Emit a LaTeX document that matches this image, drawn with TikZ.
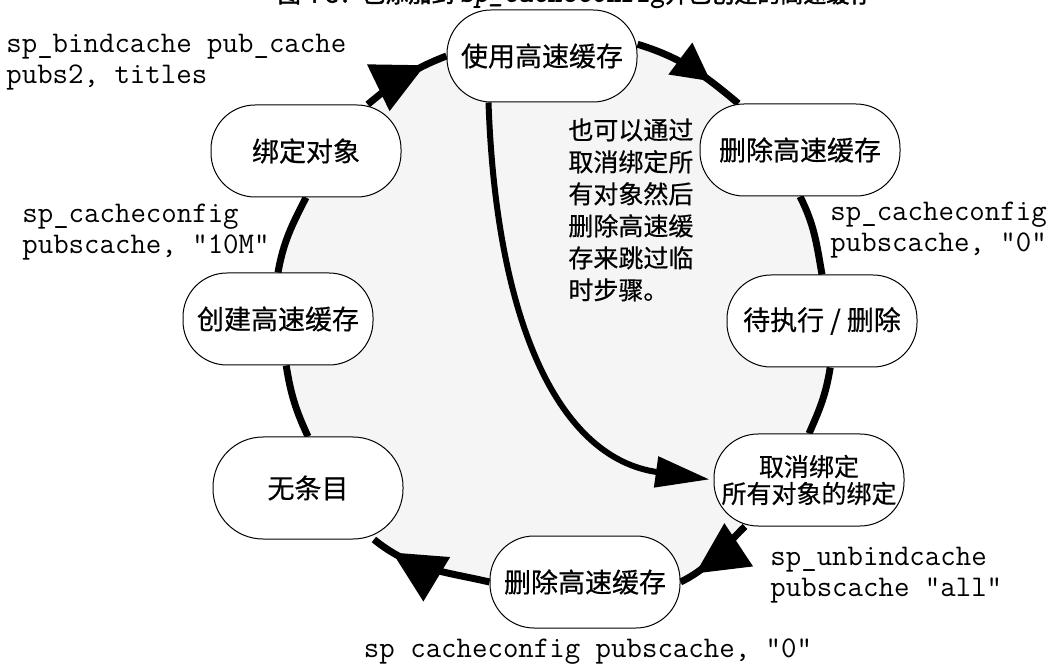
\documentclass[tikz,border=0pt]{standalone}
\usepackage{fontspec}
\newfontfamily\cjk[FakeBold=0.5]{Noto Sans CJK SC}
\newfontfamily\cjkbf[FakeBold=2]{Noto Sans CJK SC}
\usetikzlibrary{arrows.meta,decorations.markings,backgrounds}
\tikzset{
  cachestate/.style={draw,line width=0.5pt,fill=white,rounded corners=22pt,
    minimum width=95pt,minimum height=46pt,inner sep=1pt,align=center,
    font=\cjk\fontsize{13.5}{16}\selectfont},
  ring/.style={line width=3.5pt},
  ringarrow/.style={postaction={decorate},decoration={markings,
    mark=at position #1 with {\arrow{Triangle[length=26pt,width=25pt]}}}},
  cmd/.style={font=\ttfamily\fontsize{15}{15.5}\selectfont,align=left,inner sep=0pt}
}
\begin{document}
\begin{tikzpicture}[x=0.5pt,y=0.5pt]
    \useasboundingbox (0,0) rectangle (1061,665);
    %% title, cut by the top edge
    \node (title) at (575,669) {{\cjkbf\fontsize{11.5}{12}\selectfont 图 4-3：已添加到 }{\ttfamily\bfseries\itshape\fontsize{14}{14}\selectfont sp\_cacheconfig}{\cjkbf\fontsize{11.5}{12}\selectfont 并已创建的高速缓存}};
    %% states
    \node[cachestate] (use) at (542,609) {使用高速缓存};
    \node[cachestate,minimum width=100pt] (del1) at (800,515) {删除高速缓存};
    \node[cachestate] (wait) at (822,344) {待执行 / 删除};
    \node[cachestate,font=\cjk\fontsize{12.5}{13.5}\selectfont] (unbind) at (809,185) {取消绑定\\所有对象的绑定};
    \node[cachestate] (del2) at (585,83) {删除高速缓存};
    \node[cachestate,minimum height=51pt,rounded corners=25pt] (none) at (308,177) {无条目};
    \node[cachestate] (create) at (278,346) {创建高速缓存};
    \node[cachestate] (bind) at (306,514) {绑定对象};
    %% commands
    \node[cmd,anchor=west] (bindcmd) at (6,603) {sp\_bindcache pub\_cache\\pubs2, titles};
    \node[cmd,anchor=west] (sizecmd) at (22,433) {sp\_cacheconfig\\pubscache, "10M"};
    \node[cmd,anchor=west] (dropcmd) at (830,435) {sp\_cacheconfig\\pubscache, "0"};
    \node[cmd,anchor=west] (unbindcmd) at (770,90) {sp\_unbindcache\\pubscache "all"};
    \node[cmd,anchor=base] (zerocmd) at (588,8) {sp cacheconfig pubscache, "0"};
    \node[anchor=north west,inner sep=0pt,align=left,font=\cjk\fontsize{12.5}{16}\selectfont] (note) at (568,547)
        {也可以通过\\取消绑定所\\有对象然后\\删除高速缓\\存来跳过临\\时步骤。};
    \begin{scope}[on background layer]
        %% shaded inside of the ring
        \fill[black!4] (bind.37) to[out=40,in=201] (use.west) -- (use.7)
            to[out=-17,in=140] (del1.143) -- (del1.south)
            to[out=-63,in=100] (wait.north) -- (wait.-80)
            to[out=-99,in=66] (unbind.north) -- (unbind.216)
            to[out=224,in=26] (del2.east) -- (del2.west)
            to[out=167,in=-39] (none.-38) -- (none.north)
            to[out=115,in=-81] (create.-80) -- (create.north)
            to[out=80,in=-117] (bind.south) -- cycle;
        %% ring
        \draw[ring,ringarrow=0.75] (bind.37) to[out=40,in=201] (use.west);
        \draw[ring,postaction={decorate},decoration={markings,
            mark=at position 0.7 with {\arrow{Triangle[length=19pt,width=19pt]}}}]
            (use.7) to[out=-17,in=140] (del1.143);
        \draw[ring] (del1.south) to[out=-63,in=100] (wait.north);
        \draw[ring] (wait.-80) to[out=-99,in=66] (unbind.north);
        \draw[ring,ringarrow=0.8] (unbind.216) to[out=224,in=26] (del2.east);
        \draw[ring,ringarrow=0.82] (del2.west) to[out=167,in=-39] (none.-38);
        \draw[ring] (none.north) to[out=115,in=-81] (create.-80);
        \draw[ring] (create.north) to[out=80,in=-117] (bind.south);
        %% short cut
        \draw[line width=3pt,-{Triangle[length=27pt,width=15pt]},shorten >=2pt]
            (use.221) to[out=-88,in=172,out looseness=1.3,in looseness=0.9] (unbind.west);
    \end{scope}
\end{tikzpicture}
\end{document}
